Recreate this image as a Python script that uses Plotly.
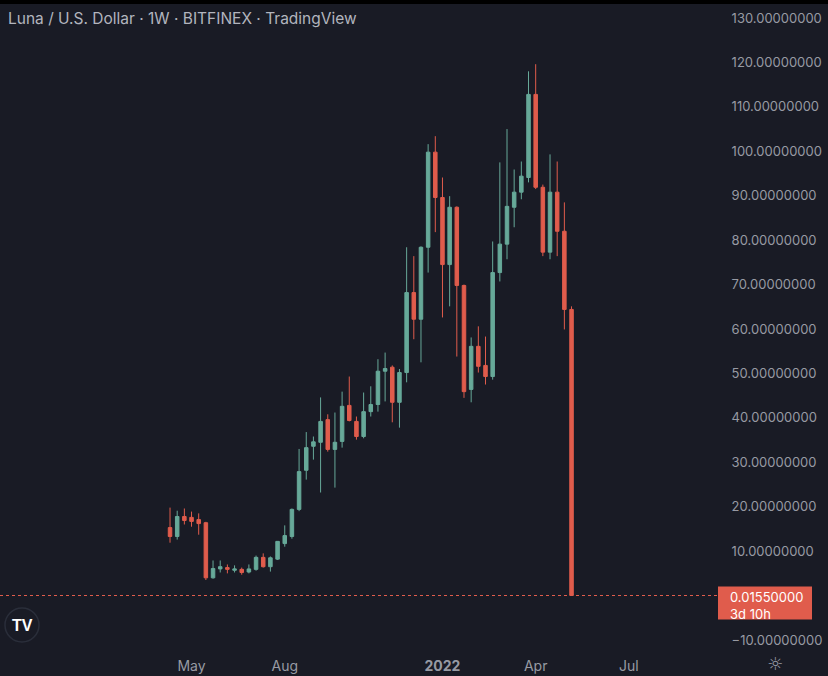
import pandas as pd
import plotly.graph_objects as go

# weekly LUNA/USD candles, Bitfinex
weeks = pd.date_range("2021-04-12", periods=57, freq="7D")

opens = [15.3, 13.3, 17.8, 17.6, 17.1, 16.4, 4.0, 6.0, 6.3, 5.7,
         5.9, 5.3, 5.9, 8.6, 6.5, 8.2, 11.7, 13.3, 19.4, 28.2,
         33.6, 34.5, 39.6, 32.9, 34.7, 42.8, 39.2, 35.8, 41.4, 43.0,
         50.5, 51.4, 43.5, 50.2, 68.2, 62.2, 78.4, 99.8, 89.6, 74.5,
         87.4, 69.8, 46.4, 56.1, 51.8, 49.3, 72.7, 79.1, 87.4, 90.8,
         94.1, 112.8, 91.9, 77.3, 90.8, 82.0, 64.4]
highs = [19.8, 19.1, 19.6, 18.9, 18.5, 16.6, 7.9, 7.9, 7.0, 6.8,
         6.3, 7.0, 9.0, 9.5, 8.8, 12.2, 15.8, 19.6, 33.0, 36.8,
         35.8, 44.6, 40.8, 41.2, 45.9, 49.3, 40.3, 45.7, 47.1, 53.2,
         54.7, 51.8, 51.0, 78.4, 76.4, 78.6, 101.6, 103.4, 94.1, 89.9,
         87.6, 70.0, 58.1, 60.6, 58.3, 79.7, 97.5, 105.0, 95.9, 97.7,
         118.0, 119.6, 92.5, 99.3, 97.7, 88.5, 65.1]
lows = [11.9, 12.6, 16.0, 15.5, 13.7, 3.5, 3.8, 5.2, 5.0, 5.2,
        4.7, 5.0, 5.6, 6.3, 5.4, 8.0, 11.0, 12.8, 19.0, 26.1,
        30.6, 23.2, 32.4, 24.3, 33.3, 39.2, 35.1, 35.4, 40.3, 41.4,
        43.7, 39.0, 37.8, 48.0, 57.7, 52.5, 72.7, 81.8, 62.6, 65.1,
        53.8, 44.5, 43.5, 50.2, 47.5, 48.6, 70.7, 75.7, 82.9, 89.2,
        93.0, 91.5, 76.4, 75.7, 76.4, 59.9, 0.0155]
closes = [13.3, 17.8, 16.9, 16.7, 16.2, 4.0, 6.1, 6.5, 5.9, 6.0,
          5.2, 6.0, 8.6, 6.5, 8.5, 12.2, 13.5, 19.4, 27.9, 33.3,
          34.6, 39.2, 32.9, 34.5, 42.6, 39.4, 35.8, 41.4, 43.0, 50.5,
          51.1, 43.5, 50.2, 68.2, 62.2, 78.4, 99.8, 89.6, 74.5, 87.4,
          69.8, 45.9, 56.1, 51.6, 49.3, 72.7, 79.1, 87.6, 90.8, 94.4,
          112.8, 91.9, 77.3, 90.8, 82.0, 64.4, 0.0155]

x_ticks = ["2021-05-03", "2021-08-02", "2022-01-03", "2022-04-04", "2022-07-04"]
x_labels = ["May", "Aug", "<b>2022</b>", "Apr", "Jul"]
# the 0 label is hidden behind the last-price tag
y_ticks = [-10, 10, 20, 30, 40, 50, 60, 70, 80, 90, 100, 110, 120, 130]

BG = "#191b25"
UP = "#67a999"
DOWN = "#e05c4c"
GREY = "#979aa3"

fig = go.Figure(go.Candlestick(
    x=weeks, open=opens, high=highs, low=lows, close=closes,
    increasing=dict(line=dict(color=UP, width=1), fillcolor=UP),
    decreasing=dict(line=dict(color=DOWN, width=1), fillcolor=DOWN),
    whiskerwidth=0,
    hoverinfo="x+y"))

last = closes[-1]

fig.update_layout(
    width=828, height=676,
    margin=dict(l=0, r=110, t=4, b=26),
    paper_bgcolor=BG, plot_bgcolor=BG,
    font=dict(family="Inter, Roboto, sans-serif", color=GREY, size=14),
    showlegend=False,
    xaxis=dict(
        rangeslider=dict(visible=False),
        range=["2020-10-28", "2022-09-29"],
        tickvals=x_ticks, ticktext=x_labels,
        showgrid=False, zeroline=False, showline=False,
        ticks="outside", ticklen=3, tickcolor="rgba(0,0,0,0)",
        tickfont=dict(size=14, color=GREY)),
    yaxis=dict(
        side="right", range=[-12.25, 133.15],
        tickvals=y_ticks, tickformat=".8f",
        showgrid=False, zeroline=False, showline=False,
        ticks="outside", ticklen=10, tickcolor="rgba(0,0,0,0)",
        tickfont=dict(size=13, color=GREY)),
)

# dotted last-price line and red price label
fig.add_shape(type="line", xref="paper", yref="y", x0=0, x1=1, y0=last, y1=last,
              line=dict(color=DOWN, width=1, dash="dot"))
fig.add_shape(type="rect", xref="paper", yref="y", x0=1.0, x1=1 + 94 / 718,
              ysizemode="pixel", yanchor=last, y0=-24, y1=9,
              fillcolor=DOWN, line=dict(width=0))
fig.add_annotation(xref="paper", yref="y", x=1, y=last, xanchor="left", yanchor="top",
                   xshift=10, yshift=9, showarrow=False, align="left",
                   text="%.8f<br>3d 10h" % last,
                   font=dict(size=13, color="#ffffff"))

# black strip on top
fig.add_shape(type="rect", xref="paper", yref="paper", x0=0, x1=1 + 110 / 718,
              y0=1, y1=1 + 4 / 646, fillcolor="#000000", line=dict(width=0))

# header
fig.add_annotation(xref="paper", yref="paper", x=0, y=1, xanchor="left", yanchor="middle",
                   xshift=6, yshift=-14, showarrow=False,
                   text="Luna / U.S. Dollar · 1W · BITFINEX · TradingView",
                   font=dict(size=15.5, color="#b2b5be"))

# TV logo
fig.add_shape(type="circle", xref="paper", yref="paper",
              xsizemode="pixel", ysizemode="pixel",
              xanchor=22 / 718, yanchor=25 / 646, x0=-17, x1=17, y0=-17, y1=17,
              line=dict(color="#2a2e3a", width=1.5), fillcolor=BG)
fig.add_annotation(xref="paper", yref="paper", x=22 / 718, y=25 / 646,
                   xanchor="center", yanchor="middle",
                   showarrow=False, text="<b>TV</b>",
                   font=dict(size=16, color="#ffffff", family="Liberation Sans"))

# settings icon
fig.add_annotation(xref="paper", yref="paper", x=1 + 57 / 718, y=0,
                   xanchor="center", yanchor="middle",
                   yshift=-13, showarrow=False, text="☼",
                   font=dict(size=18, color=GREY, family="DejaVu Sans"))

fig.write_html("out.html", config={"displayModeBar": False},
               post_script="document.body.style.margin='0';")
